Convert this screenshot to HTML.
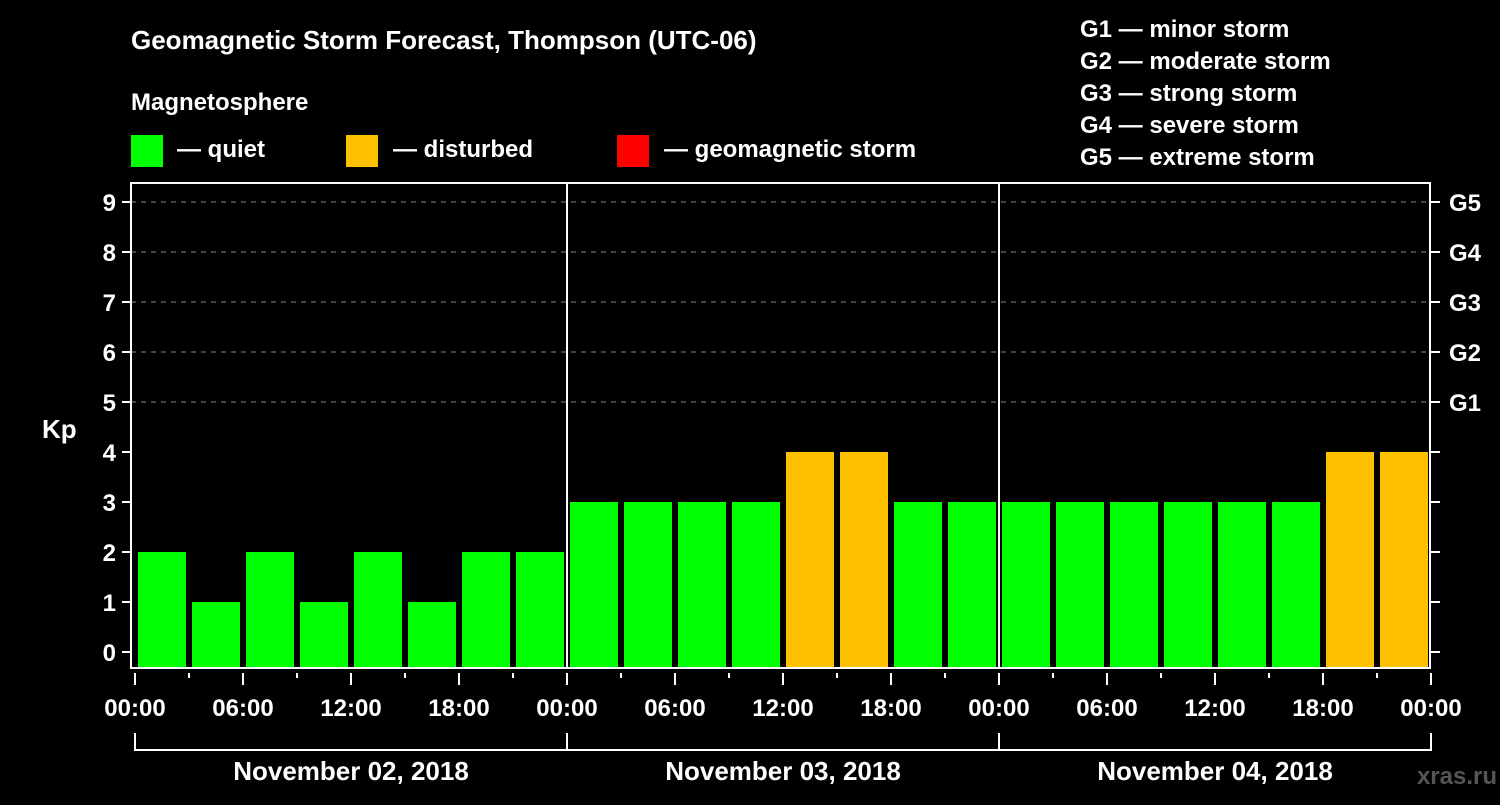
<!DOCTYPE html>
<html><head><meta charset="utf-8"><style>
body{margin:0;background:#000;width:1500px;height:800px;overflow:hidden}
svg text{font-family:"Liberation Sans",Arial,sans-serif;font-weight:bold;fill:#fff}
</style></head><body>
<svg id="c" width="1500" height="800" xmlns="http://www.w3.org/2000/svg">
<text x="131" y="49" font-size="26">Geomagnetic Storm Forecast, Thompson (UTC-06)</text>
<text x="131" y="110" font-size="24">Magnetosphere</text>
<rect x="131" y="135" width="32" height="32" fill="#00ff00"/>
<text x="177" y="157" font-size="24">— quiet</text>
<rect x="346" y="135" width="32" height="32" fill="#ffc000"/>
<text x="393" y="157" font-size="24">— disturbed</text>
<rect x="617" y="135" width="32" height="32" fill="#ff0000"/>
<text x="664" y="157" font-size="24">— geomagnetic storm</text>
<g font-size="24">
<text x="1080" y="37">G1 — minor storm</text>
<text x="1080" y="69">G2 — moderate storm</text>
<text x="1080" y="101">G3 — strong storm</text>
<text x="1080" y="133">G4 — severe storm</text>
<text x="1080" y="165">G5 — extreme storm</text>
</g>
<text x="42" y="438" font-size="26">Kp</text>
<text x="1497" y="784" font-size="24" text-anchor="end" style="fill:#555">xras.ru</text>
<g id="plot"></g>
</svg>
<script>
const days=["November 02, 2018","November 03, 2018","November 04, 2018"];
const kp=[2,1,2,1,2,1,2,2, 3,3,3,3,4,4,3,3, 3,3,3,3,3,3,4,4];
const yTicks=[0,1,2,3,4,5,6,7,8,9];
const gLabels=["G1","G2","G3","G4","G5"];
const xLabels=["00:00","06:00","12:00","18:00"];
const NS="http://www.w3.org/2000/svg";
const g=document.getElementById('plot');
const L=131,R=1430,T=183,B=668,X0=135,slot=54;
const y=k=>652-50*k;
const x=i=>X0+i*slot;
function mk(t,a,p){const e=document.createElementNS(NS,t);for(const k in a)e.setAttribute(k,a[k]);(p||g).appendChild(e);return e;}
yTicks.forEach(k=>{
 if(k>=5){const l=mk('line',{x1:L,x2:R,y1:y(k),y2:y(k),stroke:'#888','stroke-dasharray':'5,5','stroke-width':1});
 
 }
 const t=mk('line',{x1:122,x2:L,y1:y(k),y2:y(k),stroke:'#fff','stroke-width':2});
 
 
 const t2=mk('line',{x1:R,x2:1440,y1:y(k),y2:y(k),stroke:'#fff','stroke-width':2});
 
 
 const tx=mk('text',{x:116,y:y(k)+9,'font-size':24,'text-anchor':'end'});tx.textContent=k;
 
 
});
gLabels.forEach((s,i)=>{const tx=mk('text',{x:1449,y:y(5+i)+9,'font-size':24});tx.textContent=s;
 
 });
kp.forEach((v,i)=>{
 const c=v>=5?'#ff0000':v>=4?'#ffc000':'#00ff00';
 const r=mk('rect',{x:x(i)+3,y:y(v),width:48,height:B-y(v),fill:c});
 
 
});
const fr=mk('rect',{x:L,y:T,width:R-L,height:B-T,fill:'none',stroke:'#fff','stroke-width':2});


for(let d=1;d<days.length;d++){const l=mk('line',{x1:x(d*8),x2:x(d*8),y1:T,y2:B,stroke:'#fff','stroke-width':2});
 
 }
for(let i=0;i<=kp.length;i++){
 const maj=i%2==0;
 const t=mk('line',{x1:x(i),x2:x(i),y1:673,y2:maj?685:678,stroke:'#fff','stroke-width':2});
 
 
 if(maj){const tx=mk('text',{x:x(i),y:716,'font-size':24,'text-anchor':'middle'});tx.textContent=xLabels[(i/2)%4];
 
 }
}
days.forEach((d,i)=>{
 const a=x(i*8),b=x(i*8+8);
 const p=mk('path',{d:`M${a},733V750H${b}V733`,stroke:'#fff','stroke-width':2,fill:'none'});
 
 
 const tx=mk('text',{x:(a+b)/2,y:780,'font-size':26,'text-anchor':'middle'});tx.textContent=d;
 
 
});
</script>
</body></html>
